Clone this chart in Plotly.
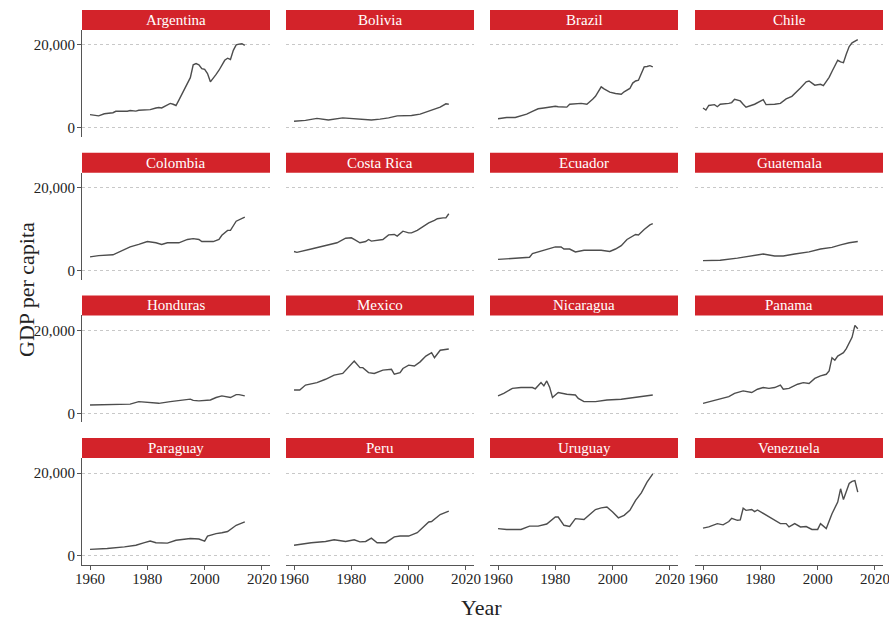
import plotly.graph_objects as go
from plotly.subplots import make_subplots

# GDP per capita (anchor years per country)
countries = ["Argentina", "Bolivia", "Brazil", "Chile",
             "Colombia", "Costa Rica", "Ecuador", "Guatemala",
             "Honduras", "Mexico", "Nicaragua", "Panama",
             "Paraguay", "Peru", "Uruguay", "Venezuela"]

argentina_years = [1960, 1961, 1963, 1965, 1968, 1969, 1973, 1974, 1976, 1977, 1980, 1981, 1983, 1984,
                   1985, 1986, 1987, 1988, 1989, 1990, 1991, 1992, 1993, 1994, 1995, 1996, 1997, 1998,
                   1999, 2000, 2001, 2002, 2003, 2004, 2005, 2006, 2007, 2008, 2009, 2010, 2011, 2012,
                   2013, 2014]
argentina_gdp = [3200, 3050, 2900, 3400, 3650, 4000, 4000, 4200, 4050, 4250, 4400, 4400, 4800, 4900,
                 4800, 5200, 5700, 5900, 5700, 5400, 6700, 8100, 9500, 11000, 12100, 15200, 15500, 15200,
                 14300, 14100, 13100, 11100, 11900, 12900, 13900, 15200, 16300, 16800, 16500, 18700, 20000, 20200,
                 20300, 19900]

bolivia_years = [1960, 1964, 1968, 1972, 1977, 1982, 1987, 1990, 1993, 1996, 2001, 2004, 2007, 2009, 2011, 2013, 2014]
bolivia_gdp = [1600, 1800, 2300, 1900, 2400, 2200, 1900, 2100, 2400, 2900, 3000, 3300, 4000, 4500, 5000, 5800, 5700]

brazil_years = [1960, 1963, 1966, 1968, 1970, 1972, 1974, 1976, 1980, 1981, 1984, 1985, 1989, 1991, 1992,
                1993, 1994, 1995, 1996, 1997, 1998, 1999, 2001, 2003, 2004, 2006, 2007, 2008, 2009, 2010,
                2011, 2012, 2013, 2014]
brazil_gdp = [2200, 2500, 2500, 2900, 3300, 4000, 4600, 4800, 5200, 5100, 5000, 5700, 5900, 5700, 6200,
              6900, 7600, 8600, 9900, 9400, 9000, 8600, 8300, 8100, 8700, 9500, 10800, 11300, 11500, 13000,
              14700, 14800, 15000, 14700]

chile_years = [1960, 1961, 1962, 1964, 1965, 1966, 1969, 1970, 1971, 1973, 1974, 1975, 1978, 1981, 1982,
               1983, 1985, 1987, 1989, 1991, 1993, 1994, 1996, 1997, 1999, 2001, 2002, 2003, 2004, 2005,
               2006, 2007, 2008, 2009, 2010, 2011, 2012, 2013, 2014]
chile_gdp = [4800, 4300, 5400, 5600, 5100, 5700, 5900, 6100, 6900, 6500, 5700, 5000, 5700, 6800, 5600,
             5600, 5700, 5900, 7000, 7600, 8900, 9600, 11100, 11300, 10300, 10500, 10200, 11200, 12200, 13600,
             14800, 16300, 15900, 15700, 17800, 19600, 20500, 21000, 21300]

colombia_years = [1960, 1963, 1968, 1970, 1974, 1977, 1980, 1983, 1985, 1987, 1991, 1994, 1996, 1998, 1999,
                  2003, 2005, 2006, 2008, 2009, 2011, 2014]
colombia_gdp = [3300, 3600, 3800, 4400, 5700, 6300, 7000, 6700, 6300, 6700, 6700, 7500, 7700, 7500, 7000,
                7000, 7500, 8500, 9700, 9700, 11900, 12900]

costa_rica_years = [1960, 1961, 1966, 1972, 1975, 1978, 1980, 1981, 1983, 1985, 1986, 1987, 1990, 1991,
                    1993, 1995, 1996, 1998, 2000, 2001, 2003, 2005, 2007, 2009, 2010, 2012, 2013, 2014]
costa_rica_gdp = [4600, 4400, 5200, 6200, 6700, 7800, 7900, 7500, 6700, 7000, 7500, 7100, 7500, 7500,
                  8600, 8700, 8300, 9500, 9100, 9100, 9700, 10700, 11500, 12100, 12500, 12700, 12700, 13700]

ecuador_years = [1960, 1966, 1971, 1972, 1974, 1977, 1980, 1982, 1983, 1985, 1987, 1990, 1993, 1996, 1999,
                 2001, 2003, 2005, 2008, 2009, 2011, 2013, 2014]
ecuador_gdp = [2700, 2900, 3200, 4100, 4500, 5200, 5700, 5700, 5200, 5200, 4500, 4900, 4900, 4900, 4600,
               5200, 6000, 7500, 8700, 8600, 9900, 11000, 11300]

guatemala_years = [1960, 1966, 1972, 1978, 1981, 1985, 1988, 1992, 1997, 2001, 2005, 2008, 2011, 2014]
guatemala_gdp = [2400, 2500, 3000, 3600, 4000, 3500, 3500, 4000, 4500, 5200, 5600, 6200, 6700, 7000]

honduras_years = [1960, 1968, 1974, 1977, 1981, 1984, 1988, 1991, 1995, 1996, 1998, 2002, 2004, 2006, 2009,
                  2011, 2012, 2014]
honduras_gdp = [2000, 2200, 2200, 2800, 2600, 2400, 2800, 3000, 3400, 3100, 3000, 3200, 3800, 4200, 3800,
                4500, 4500, 4200]

mexico_years = [1960, 1962, 1964, 1968, 1971, 1974, 1977, 1979, 1981, 1983, 1984, 1986, 1988, 1991, 1994,
                1995, 1997, 1998, 2000, 2002, 2004, 2006, 2008, 2009, 2011, 2014]
mexico_gdp = [5600, 5600, 6800, 7400, 8200, 9200, 9600, 11200, 12600, 11000, 11000, 9800, 9600, 10400, 10600,
              9400, 9800, 10800, 11600, 11400, 12400, 13800, 14600, 13400, 15200, 15500]

nicaragua_years = [1960, 1962, 1965, 1968, 1972, 1973, 1975, 1976, 1977, 1978, 1979, 1981, 1984, 1987, 1988,
                   1990, 1994, 1998, 2003, 2008, 2011, 2014]
nicaragua_gdp = [4200, 4800, 6000, 6200, 6200, 5900, 7400, 6600, 7800, 6300, 3800, 5000, 4600, 4400, 3600,
                 2800, 2800, 3200, 3400, 3800, 4000, 4400]

panama_years = [1960, 1965, 1969, 1971, 1974, 1977, 1979, 1981, 1983, 1985, 1987, 1988, 1990, 1993, 1995,
                1997, 1999, 2001, 2003, 2004, 2005, 2006, 2007, 2008, 2009, 2010, 2011, 2012, 2013, 2014]
panama_gdp = [2400, 3200, 4000, 4800, 5400, 5000, 5800, 6200, 6000, 6200, 6800, 5800, 6000, 7000, 7400,
              7200, 8400, 9000, 9400, 10200, 13400, 12800, 13800, 14200, 14600, 15600, 17000, 18300, 21200, 20400]

paraguay_years = [1960, 1966, 1972, 1976, 1979, 1981, 1983, 1987, 1990, 1995, 1998, 2000, 2001, 2004, 2006,
                  2008, 2011, 2014]
paraguay_gdp = [1600, 1800, 2200, 2600, 3200, 3600, 3200, 3100, 3800, 4200, 4100, 3600, 4800, 5400, 5600,
                5900, 7400, 8200]

peru_years = [1960, 1964, 1966, 1971, 1974, 1978, 1981, 1983, 1985, 1987, 1989, 1992, 1995, 1997, 2000,
              2003, 2005, 2007, 2008, 2011, 2014]
peru_gdp = [2600, 3000, 3200, 3500, 3900, 3500, 3900, 3400, 3500, 4300, 3200, 3200, 4600, 4800, 4800,
            5600, 7000, 8200, 8300, 10000, 10800]

uruguay_years = [1960, 1963, 1968, 1971, 1974, 1977, 1980, 1981, 1983, 1985, 1987, 1990, 1993, 1994, 1996,
                 1998, 2000, 2002, 2004, 2006, 2008, 2010, 2012, 2014]
uruguay_gdp = [6600, 6400, 6400, 7200, 7200, 7700, 9400, 9400, 7400, 7100, 9000, 8800, 10600, 11200, 11600,
               11800, 10600, 9200, 9800, 11000, 13400, 15200, 17800, 19800]

venezuela_years = [1960, 1962, 1965, 1967, 1969, 1970, 1972, 1973, 1974, 1975, 1977, 1978, 1979, 1982, 1984,
                   1987, 1989, 1990, 1992, 1994, 1996, 1998, 2000, 2001, 2003, 2005, 2007, 2008, 2009, 2010,
                   2011, 2012, 2013, 2014]
venezuela_gdp = [6700, 7000, 7800, 7500, 8300, 9100, 8600, 8700, 11500, 11000, 11200, 10700, 11100, 9900, 9100,
                 7800, 7800, 7000, 7800, 7000, 7100, 6400, 6400, 7800, 6600, 10200, 13000, 16200, 13600, 15600,
                 17500, 18000, 18200, 15400]

series = [
    (argentina_years, argentina_gdp), (bolivia_years, bolivia_gdp),
    (brazil_years, brazil_gdp), (chile_years, chile_gdp),
    (colombia_years, colombia_gdp), (costa_rica_years, costa_rica_gdp),
    (ecuador_years, ecuador_gdp), (guatemala_years, guatemala_gdp),
    (honduras_years, honduras_gdp), (mexico_years, mexico_gdp),
    (nicaragua_years, nicaragua_gdp), (panama_years, panama_gdp),
    (paraguay_years, paraguay_gdp), (peru_years, peru_gdp),
    (uruguay_years, uruguay_gdp), (venezuela_years, venezuela_gdp),
]

x_ticks = [1960, 1980, 2000, 2020]
y_ticks = [0, 20000]

W, H = 889, 621
FONT = "Liberation Serif"
RED = "#d3232a"
LINE = "#4d4d4d"


def px(x):
    return x / W


def py(y):
    return 1 - y / H


fig = make_subplots(rows=4, cols=4)

# panel geometry in window pixels
col_left = [82, 286, 490, 695]
panel_w = 188
strip_h = 20
plot_h = 107
row_top = [10 + 142.7 * r for r in range(4)]

for i, (name, (yrs, vals)) in enumerate(zip(countries, series)):
    r, c = divmod(i, 4)
    fig.add_trace(go.Scatter(x=yrs, y=vals, mode="lines",
                             line=dict(color=LINE, width=1.4),
                             showlegend=False, hoverinfo="skip"),
                  row=r + 1, col=c + 1)

    x0 = px(col_left[c])
    x1 = px(col_left[c] + panel_w)
    top = row_top[r] + strip_h
    bot = top + plot_h
    fig.update_xaxes(domain=[x0, x1], range=[1957.2, 2022.8], automargin=False,
                     tickvals=x_ticks, showgrid=False, zeroline=False,
                     showticklabels=(r == 3), ticks="outside" if r == 3 else "",
                     ticklen=4, tickcolor="#555", showline=(r == 3),
                     linecolor="#555", linewidth=1,
                     ticklabeloverflow="allow", ticklabelstandoff=-4,
                     tickfont=dict(family=FONT, size=15, color="#222"),
                     row=r + 1, col=c + 1)
    fig.update_yaxes(domain=[py(bot), py(top)], range=[-2200, 23600], automargin=False,
                     tickvals=y_ticks, tickformat=",d", showgrid=True,
                     gridcolor="#c8c8c8", griddash="dot", gridwidth=1,
                     zeroline=False,
                     showticklabels=(c == 0), ticks="outside" if c == 0 else "",
                     ticklen=4, tickcolor="#555", showline=(c == 0),
                     linecolor="#555", linewidth=1,
                     ticklabelstandoff=-1,
                     tickfont=dict(family=FONT, size=15, color="#222"),
                     row=r + 1, col=c + 1)

    # red strip header
    fig.add_shape(type="rect", xref="paper", yref="paper",
                  x0=x0, x1=x1, y0=py(top), y1=py(row_top[r]),
                  fillcolor=RED, line=dict(width=0), layer="above")
    fig.add_annotation(text=name, xref="paper", yref="paper",
                       x=(x0 + x1) / 2, y=py(row_top[r] + strip_h / 2),
                       showarrow=False, xanchor="center", yanchor="middle",
                       font=dict(family=FONT, size=15, color="white"))

fig.add_annotation(text="GDP per capita", xref="paper", yref="paper",
                   x=px(26), y=py(290), textangle=-90, showarrow=False,
                   xanchor="center", yanchor="middle",
                   font=dict(family=FONT, size=22, color="#222"))
fig.add_annotation(text="Year", xref="paper", yref="paper",
                   x=px(482), y=py(607), showarrow=False,
                   xanchor="center", yanchor="middle",
                   font=dict(family=FONT, size=22, color="#222"))

fig.update_layout(width=W, height=H, margin=dict(l=0, r=0, t=0, b=0),
                  paper_bgcolor="white", plot_bgcolor="white",
                  font=dict(family=FONT))

# drop the page's default body margin so the figure fills the window
fig.write_html("out.html", config={"displayModeBar": False},
               post_script="document.body.style.margin='0';document.body.style.overflow='hidden';")
